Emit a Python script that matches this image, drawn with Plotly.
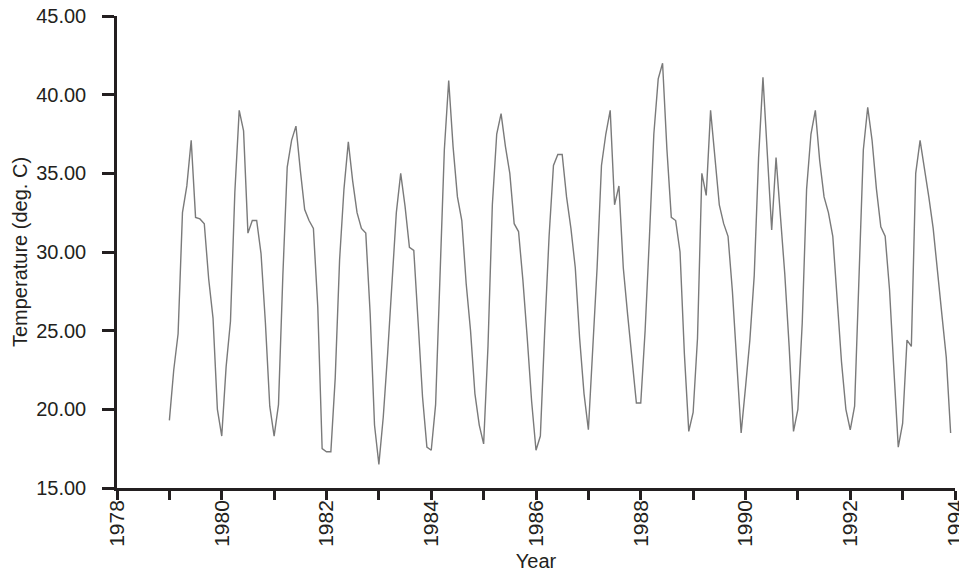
import plotly.graph_objects as go

# Monthly temperatures (deg. C), Jan..Dec
t1979 = [19.3, 22.5, 24.8, 32.5, 34.2, 37.1, 32.2, 32.1, 31.8, 28.3, 25.8, 20.0]
t1980 = [18.3, 22.7, 25.6, 33.8, 39.0, 37.7, 31.2, 32.0, 32.0, 29.9, 25.5, 20.2]
t1981 = [18.3, 20.3, 28.5, 35.4, 37.1, 38.0, 35.2, 32.7, 32.0, 31.5, 26.5, 17.5]
t1982 = [17.3, 17.3, 22.0, 29.5, 34.0, 37.0, 34.5, 32.5, 31.5, 31.2, 26.1, 19.0]
t1983 = [16.5, 19.5, 23.5, 28.0, 32.5, 35.0, 32.9, 30.3, 30.1, 25.5, 20.8, 17.6]
t1984 = [17.4, 20.3, 28.5, 36.5, 40.9, 36.7, 33.5, 32.0, 28.0, 25.0, 21.0, 19.0]
t1985 = [17.8, 24.0, 33.0, 37.5, 38.8, 36.7, 35.0, 31.8, 31.3, 28.2, 24.5, 20.5]
t1986 = [17.4, 18.3, 25.0, 31.0, 35.5, 36.2, 36.2, 33.5, 31.5, 29.0, 24.5, 21.0]
t1987 = [18.7, 24.0, 29.0, 35.5, 37.5, 39.0, 33.0, 34.2, 29.0, 26.0, 23.0, 20.4]
t1988 = [20.4, 25.0, 31.0, 37.5, 41.0, 42.0, 36.5, 32.2, 32.0, 30.0, 23.5, 18.6]
t1989 = [19.8, 24.5, 35.0, 33.6, 39.0, 36.0, 33.0, 31.8, 31.0, 27.5, 23.3, 18.5]
t1990 = [21.4, 24.4, 28.5, 36.0, 41.1, 36.0, 31.4, 36.0, 32.5, 28.6, 24.0, 18.6]
t1991 = [20.0, 25.5, 34.0, 37.5, 39.0, 35.8, 33.5, 32.5, 31.0, 27.0, 23.0, 20.0]
t1992 = [18.7, 20.2, 29.0, 36.5, 39.2, 37.1, 34.0, 31.6, 31.0, 27.6, 22.5, 17.6]
t1993 = [19.1, 24.4, 24.0, 35.0, 37.1, 35.4, 33.5, 31.5, 28.5, 26.0, 23.3, 18.5]

years = list(range(1979, 1994))
yearly = [t1979, t1980, t1981, t1982, t1983, t1984, t1985, t1986,
          t1987, t1988, t1989, t1990, t1991, t1992, t1993]

x_vals = []
y_vals = []
for yr, temps in zip(years, yearly):
    for month, t in enumerate(temps):
        x_vals.append(yr + month / 12.0)
        y_vals.append(t)

FONT = "Liberation Sans, Arial, Helvetica, sans-serif"
INK = "#231f20"

fig = go.Figure()
fig.add_trace(go.Scatter(
    x=x_vals, y=y_vals, mode="lines",
    line=dict(color="#7a7a7a", width=1.4),
    showlegend=False, hoverinfo="x+y",
))

fig.update_layout(
    width=959, height=572,
    margin=dict(l=117, r=4, t=16, b=84),
    paper_bgcolor="white", plot_bgcolor="white",
    font=dict(family=FONT, color=INK),
    xaxis=dict(
        range=[1978, 1994], tickmode="linear", tick0=1978, dtick=2,
        ticks="outside", ticklen=9, tickwidth=2.5, tickcolor=INK,
        showline=True, linewidth=2.5, linecolor=INK,
        showgrid=False, zeroline=False, tickangle=-90,
        tickfont=dict(size=21, family=FONT, color=INK),
        ticklabelstandoff=-8, ticklabeloverflow="allow",
        minor=dict(dtick=1, tick0=1978, ticks="outside", ticklen=9,
                   tickwidth=2.5, tickcolor=INK, showgrid=False),
        title=dict(text="Year", font=dict(size=20, family=FONT, color=INK), standoff=10),
        automargin=False,
    ),
    yaxis=dict(
        range=[15, 45], tickmode="linear", tick0=15, dtick=5, tickformat=".2f",
        ticks="outside", ticklen=12, tickwidth=2.5, tickcolor=INK,
        showline=True, linewidth=2.5, linecolor=INK,
        showgrid=False, zeroline=False,
        tickfont=dict(size=20, family=FONT, color=INK),
        ticklabelstandoff=12,
        title=dict(text="Temperature (deg. C)", font=dict(size=20, family=FONT, color=INK), standoff=4),
        automargin=False,
    ),
)

fig.write_html("out.html", config={"displayModeBar": False},
               post_script="document.body.style.margin='0px';")
